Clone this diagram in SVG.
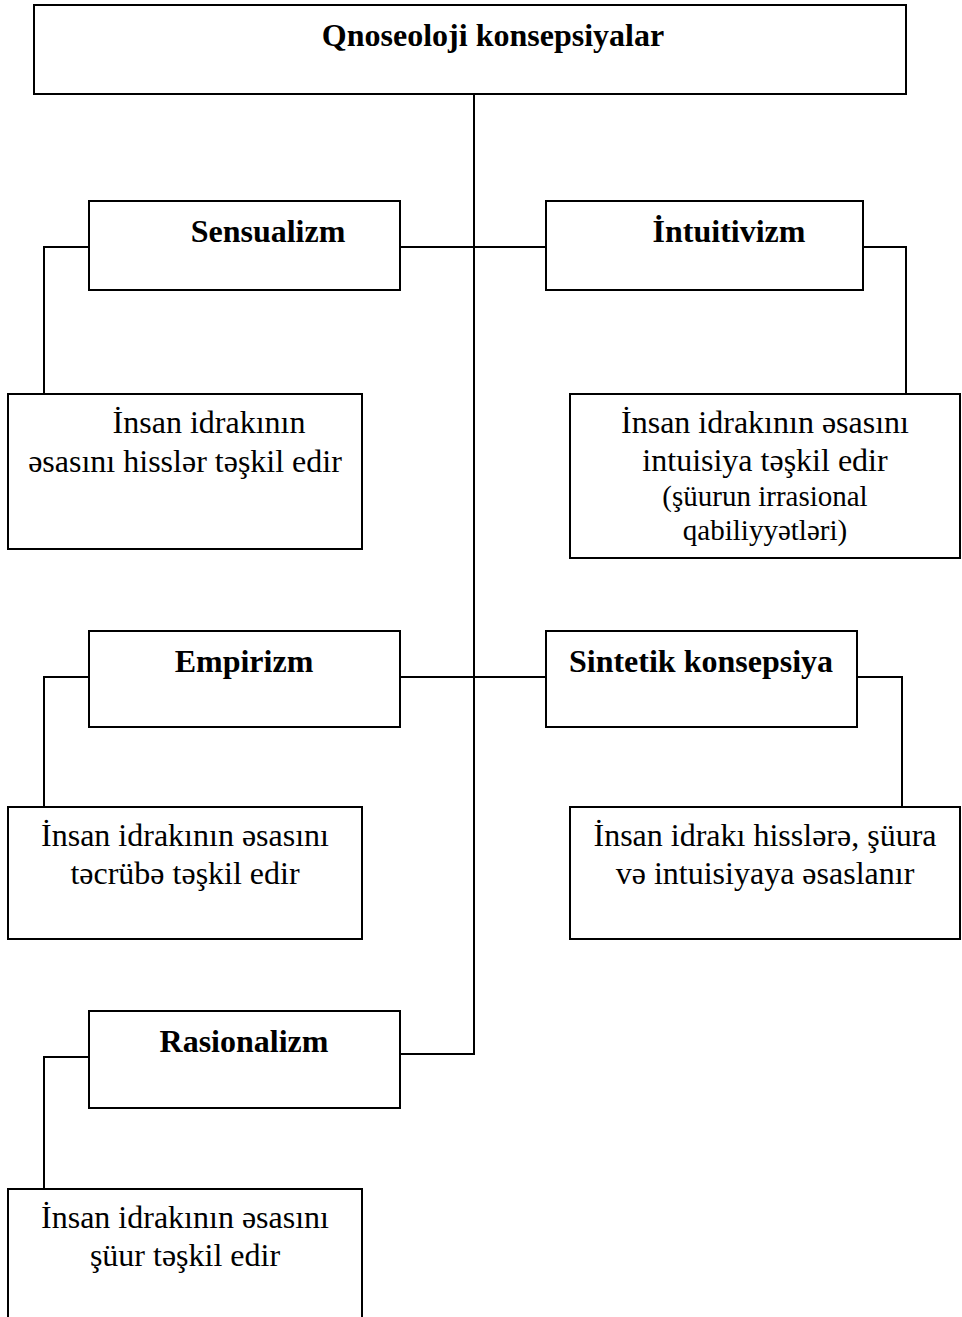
<svg xmlns="http://www.w3.org/2000/svg" width="962" height="1317" viewBox="0 0 962 1317">
<style>
rect{fill:#fff;stroke:#000;stroke-width:2}
.c{fill:none;stroke:#000;stroke-width:2}
.h{font-family:"Liberation Serif",serif;font-weight:bold;font-size:32px;text-anchor:middle}
.t{font-family:"Liberation Serif",serif;font-size:32px;text-anchor:middle}
.s{font-family:"Liberation Serif",serif;font-size:29px;text-anchor:middle}
</style>
<rect x="0" y="0" width="962" height="1317" style="stroke:none"/>
<g id="connectors">
<path class="c" d="M474 94V1054H400"/>
<path class="c" d="M400 247H546"/>
<path class="c" d="M400 677H546"/>
<path class="c" d="M89 247H44V394"/>
<path class="c" d="M863 247H906V394"/>
<path class="c" d="M89 677H44V807"/>
<path class="c" d="M857 677H902V807"/>
<path class="c" d="M89 1057H44V1189"/>
</g>
<g id="root"><rect x="34" y="5" width="872" height="89"/><text class="h" x="493" y="46">Qnoseoloji konsepsiyalar</text></g>
<g id="sensualizm"><rect x="89" y="201" width="311" height="89"/><text class="h" x="268" y="242">Sensualizm</text></g>
<g id="intuitivizm"><rect x="546" y="201" width="317" height="89"/><text class="h" x="729" y="242">İntuitivizm</text></g>
<g id="sensualizm-desc"><rect x="8" y="394" width="354" height="155"/><text class="t" x="209" y="433">İnsan idrakının</text><text class="t" x="185" y="472">əsasını hisslər təşkil edir</text></g>
<g id="intuitivizm-desc"><rect x="570" y="394" width="390" height="164"/><text class="t" x="765" y="433">İnsan idrakının əsasını</text><text class="t" x="765" y="471">intuisiya təşkil edir</text><text class="s" x="765" y="506">(şüurun irrasional</text><text class="s" x="765" y="540">qabiliyyətləri)</text></g>
<g id="empirizm"><rect x="89" y="631" width="311" height="96"/><text class="h" x="244" y="672">Empirizm</text></g>
<g id="sintetik"><rect x="546" y="631" width="311" height="96"/><text class="h" x="701" y="672">Sintetik konsepsiya</text></g>
<g id="empirizm-desc"><rect x="8" y="807" width="354" height="132"/><text class="t" x="185" y="846">İnsan idrakının əsasını</text><text class="t" x="185" y="884">təcrübə təşkil edir</text></g>
<g id="sintetik-desc"><rect x="570" y="807" width="390" height="132"/><text class="t" x="765" y="846">İnsan idrakı hisslərə, şüura</text><text class="t" x="765" y="884">və intuisiyaya əsaslanır</text></g>
<g id="rasionalizm"><rect x="89" y="1011" width="311" height="97"/><text class="h" x="244" y="1052">Rasionalizm</text></g>
<g id="rasionalizm-desc"><rect x="8" y="1189" width="354" height="160"/><text class="t" x="185" y="1228">İnsan idrakının əsasını</text><text class="t" x="185" y="1266">şüur təşkil edir</text></g>
</svg>
